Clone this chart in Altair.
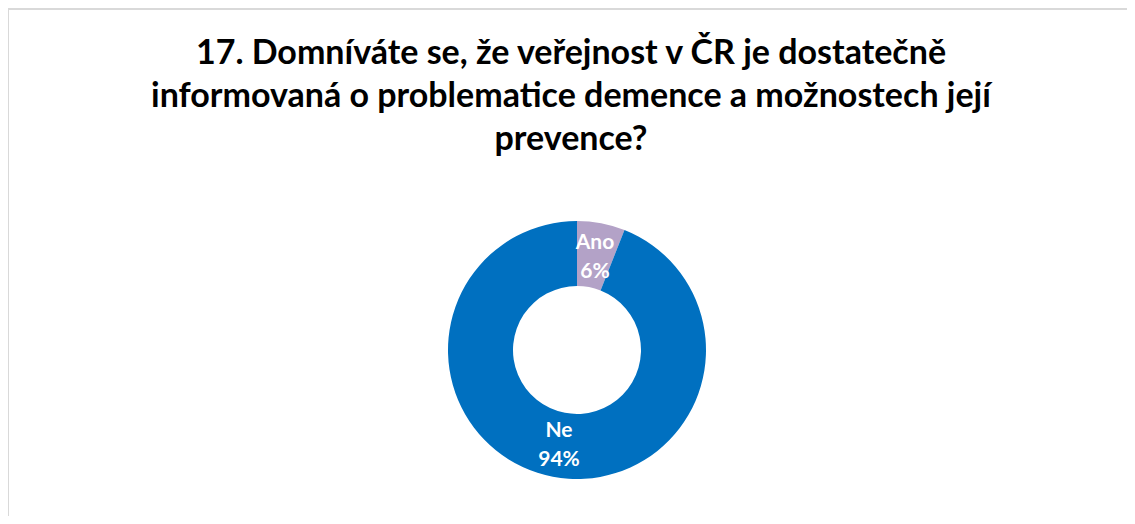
import altair as alt
import pandas as pd

categories = ["Ano", "Ne"]
percents = [6, 94]
colors = ["#B3A2C7", "#0070C0"]
title_lines = [
    "17. Domníváte se, že veřejnost v ČR je dostatečně",
    "informovaná o problematice demence a možnostech její",
    "prevence?",
]

W, H = 1119, 508
CX, CY = 569, 342

df = pd.DataFrame({"cat": categories, "pct": percents, "ord": list(range(len(categories)))})

base = alt.Chart(df).encode(
    theta=alt.Theta("pct:Q", stack=True),
    order=alt.Order("ord:Q"),
    x=alt.value(CX),
    y=alt.value(CY),
)

arcs = base.mark_arc(outerRadius=129, innerRadius=64).encode(
    color=alt.Color("cat:N", scale=alt.Scale(domain=categories, range=colors), legend=None)
)

labels = base.transform_calculate(
    lab="datum.cat + '\\n' + datum.pct + '%'"
).mark_text(
    radius=96, font="Lato", fontWeight="bold", fontSize=21, color="white",
    lineBreak="\n", lineHeight=29, align="center", baseline="middle", dy=-13
).encode(text="lab:N")

title_df = pd.DataFrame({"t": ["\n".join(title_lines)]})
title = alt.Chart(title_df).mark_text(
    font="Lato", fontWeight="bold", fontSize=34, color="#000000",
    lineBreak="\n", lineHeight=43, align="center", baseline="alphabetic"
).encode(text="t:N", x=alt.value(563), y=alt.value(56))

rule_df = pd.DataFrame({"a": [0]})
top_rule = alt.Chart(rule_df).mark_rule(color="#D9D9D9", strokeWidth=2).encode(
    x=alt.value(0), x2=alt.value(W), y=alt.value(1)
)
left_rule = alt.Chart(rule_df).mark_rule(color="#D9D9D9", strokeWidth=2).encode(
    x=alt.value(0), y=alt.value(0), y2=alt.value(H)
)

chart = alt.layer(top_rule, left_rule, arcs, labels, title).properties(
    width=W, height=H, padding=0, autosize=alt.AutoSizeParams(type="none")
).configure_view(stroke=None)

chart.save("out.html", embed_options={"renderer": "svg", "actions": False})
